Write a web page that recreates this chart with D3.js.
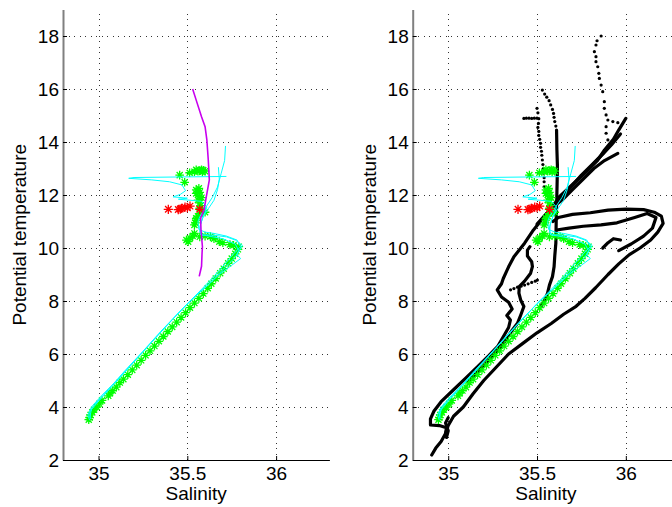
<!DOCTYPE html>
<html><head><meta charset="utf-8">
<script src="https://cdn.jsdelivr.net/npm/d3@7"></script>
<style>body{margin:0;background:#fff;overflow:hidden} svg{display:block} text{font-family:"Liberation Sans",Arial,Helvetica,sans-serif}</style>
</head><body><svg id="c" width="672" height="507"></svg>
<script>
// ---------- data ----------
const salDomain = [34.8, 36.3];
const tempDomain = [2, 19];
const salTicks = [35, 35.5, 36];
const tempTicks = [2, 4, 6, 8, 10, 12, 14, 16, 18];
const xLabel = "Salinity";
const yLabel = "Potential temperature";

// green asterisks [salinity, temperature]
const greenPts = [
 [34.945,3.52],[34.95,3.6],[34.955,3.7],[34.965,3.8],[34.975,3.9],[34.99,4.0],[35.005,4.12],[35.02,4.25],
 [35.055,4.42],[35.065,4.52],[35.08,4.62],[35.1,4.75],[35.12,4.92],[35.14,5.05],[35.165,5.22],[35.19,5.4],
 [35.215,5.58],[35.24,5.76],[35.265,5.95],[35.29,6.12],[35.315,6.3],[35.34,6.48],[35.365,6.66],[35.39,6.85],
 [35.415,7.02],[35.44,7.2],[35.465,7.38],[35.49,7.56],[35.515,7.75],[35.54,7.92],[35.565,8.1],[35.59,8.28],
 [35.615,8.48],[35.635,8.65],[35.66,8.85],[35.685,9.05],[35.705,9.22],[35.73,9.42],[35.75,9.6],[35.77,9.78],
 [35.785,9.95],[35.79,10.05],
 [35.76,10.1],[35.74,10.13],[35.70,10.2],[35.68,10.24],[35.65,10.35],[35.63,10.43],[35.6,10.45],[35.57,10.42],
 [35.54,10.55],[35.53,10.45],[35.515,10.37],[35.505,10.24],[35.495,10.3],
 [35.54,10.87],[35.545,10.95],[35.55,11.05],[35.55,11.12],[35.56,11.2],[35.57,11.3],[35.6,11.35],[35.57,11.5],
 [35.575,11.6],[35.57,11.7],[35.56,11.81],[35.57,11.95],[35.55,12.06],[35.55,12.19],[35.57,12.1],[35.58,11.9],
 [35.565,12.25],
 [35.457,12.75],[35.485,12.48],[35.513,12.84],[35.54,12.88],[35.56,12.9],[35.57,12.92],[35.58,12.95],
 [35.59,12.93],[35.6,12.9],[35.585,12.87],[35.55,12.95]
];
// red asterisks
const redPts = [
 [35.393,11.46],[35.449,11.45],[35.46,11.47],[35.468,11.5],[35.487,11.54],[35.50,11.52],[35.515,11.58],[35.57,11.46]
];
// magenta profile (left panel only)
const magentaProfile = [
 [35.53,16.0],[35.55,15.58],[35.58,14.95],[35.60,14.58],[35.61,14.08],[35.618,13.32],[35.624,12.57],
 [35.607,11.94],[35.594,11.43],[35.575,11.12],[35.577,10.68],[35.585,10.05],[35.583,9.81],[35.58,9.31],[35.567,8.93]
];
// cyan profiles
const cyanA = [[34.95,3.5],[34.94,3.7],[34.96,4.0],[35.02,4.45],[35.1,4.98],[35.2,5.72],[35.3,6.45],[35.4,7.18],[35.5,7.9],
 [35.56,8.3],[35.62,8.72],[35.68,9.15],[35.73,9.55],[35.77,9.85],[35.8,10.05],[35.78,10.3],[35.72,10.45],[35.65,10.55],
 [35.6,10.6],[35.565,10.7],[35.56,11.0],[35.57,11.18],[35.6,11.5],[35.64,11.9],[35.67,12.3],[35.69,12.8],[35.71,13.3],[35.715,13.85]];
const cyanB = [[34.955,3.55],[34.95,3.8],[34.98,4.1],[35.05,4.62],[35.15,5.38],[35.25,6.1],[35.35,6.85],[35.45,7.55],[35.53,8.1],
 [35.6,8.5],[35.68,9.0],[35.75,9.35],[35.8,9.6],[35.78,9.75],[35.81,10.1],[35.77,10.3],[35.72,10.42],[35.65,10.48],[35.59,10.5],
 [35.57,10.6],[35.575,10.9],[35.59,11.2],[35.62,11.5],[35.65,11.8],[35.67,12.2],[35.68,12.6],[35.675,13.05]];
const cyanC = [[34.95,3.6],[34.96,3.9],[35.0,4.22],[35.08,4.8],[35.18,5.55],[35.28,6.3],[35.38,7.05],[35.48,7.75],[35.55,8.2],
 [35.63,8.7],[35.71,9.25],[35.77,9.65],[35.79,9.9],[35.77,10.15],[35.7,10.35],[35.62,10.45],[35.575,10.5],[35.57,10.8],
 [35.585,11.1],[35.6,11.35],[35.61,11.55],[35.58,11.76],[35.52,11.8],[35.45,11.84],[35.5,11.88],[35.42,11.93],[35.46,12.02],
 [35.49,12.16],[35.47,12.38],[35.4,12.5],[35.3,12.57],[35.17,12.63],[35.2,12.66],[35.45,12.68],[35.72,12.7]];
const cyanProfiles = [cyanA, cyanB, cyanC];

// black tracks (right panel only), dense sections
const blackA = [[34.907,2.19],[34.93,2.45],[34.96,2.7],[34.985,3.0],[34.99,3.22],[34.95,3.3],[34.90,3.32],[34.9,3.55],[34.92,3.85],
 [34.96,4.2],[35.03,4.65],[35.1,5.1],[35.17,5.55],[35.23,5.95],[35.28,6.3],[35.31,6.65],[35.34,7.0],[35.35,7.28],[35.33,7.45],
 [35.36,7.7],[35.34,7.95],[35.3,8.15],[35.276,8.42],[35.3,8.65],[35.31,8.85],[35.34,9.29],[35.37,9.67],[35.43,10.18],[35.48,10.68],
 [35.54,11.18],[35.6,11.69],[35.66,12.1],[35.72,12.5],[35.785,12.94],[35.84,13.3],[35.88,13.7],[35.93,14.1],[35.96,14.45],[36.0,14.89]];
const blackB = [[35.11,4.95],[35.16,5.3],[35.22,5.7],[35.27,6.05],[35.32,6.5],[35.36,6.9],[35.39,7.16],
 [35.41,7.5],[35.426,7.79],[35.408,8.04],[35.398,8.3],[35.40,8.54],[35.43,8.75],[35.464,9.05],[35.474,9.3],[35.47,9.48],
 [35.446,9.7],[35.446,9.92],[35.46,10.05]];
const blackC = [[35.61,14.45],[35.612,13.7],[35.615,13.07],[35.613,12.4],[35.611,11.81],[35.608,11.0],[35.606,10.18],[35.6,9.7],
 [35.596,9.29],[35.587,8.92],[35.57,8.6],[35.559,8.29],[35.54,8.0],[35.521,7.79]];
const blackD = [[34.985,3.0],[35.0,3.3],[35.03,3.65],[35.085,4.0],[35.14,4.5],[35.2,5.0],[35.27,5.5],[35.34,6.0],[35.42,6.4],
 [35.5,6.8],[35.58,7.15],[35.65,7.5],[35.72,7.8],[35.77,8.1],[35.83,8.5],[35.9,9.0],[35.96,9.4],[36.02,9.75],[36.08,10.0],
 [36.14,10.3],[36.18,10.6],[36.21,10.93],[36.2,11.2],[36.16,11.35],[36.1,11.45],[36.0,11.47],[35.9,11.43],[35.8,11.33],
 [35.7,11.27],[35.62,11.15],[35.59,11.0]];
const blackE = [[35.61,10.68],[35.68,10.75],[35.76,10.82],[35.86,10.87],[35.95,10.95],[36.05,11.15],[36.12,11.3],[36.17,11.15],
 [36.15,10.75],[36.1,10.45],[36.03,10.15],[35.96,9.9]];
const blackF = [[35.87,10.0],[35.9,10.2],[35.93,10.35],[35.97,10.3]];
const blackG = [[35.58,11.5],[35.64,11.8],[35.7,12.2],[35.76,12.6],[35.82,13.0],[35.88,13.3],[35.955,13.57]];
const blackH = [[35.62,11.9],[35.7,12.4],[35.78,12.9],[35.85,13.4],[35.92,13.9],[35.97,14.3]];
const blackI = [[35.5,10.9],[35.56,11.35],[35.63,11.85],[35.69,12.3],[35.75,12.75],[35.81,13.15],[35.87,13.55],[35.92,13.95]];
const blackJ = [[34.99,2.85],[35.0,3.1],[34.985,3.4],[35.0,3.6]];
const blackTracks = [blackA, blackB, blackC, blackD, blackE, blackF, blackG, blackH, blackI, blackJ];

// black sparse dots (right panel only)
const blackDots = [
 [35.861,18.0],[35.838,17.82],[35.832,17.66],[35.823,17.41],[35.832,17.22],[35.832,17.03],[35.842,16.84],[35.848,16.59],
 [35.851,16.40],[35.861,16.15],[35.870,15.90],[35.879,15.52],[35.879,15.27],[35.889,15.02],[35.899,14.83],[35.927,14.77],
 [35.955,14.73],[35.889,14.58],[35.889,14.33],[35.899,14.08],[35.899,13.82],
 [35.530,15.96],[35.543,15.81],[35.555,15.69],[35.568,15.56],[35.577,15.40],[35.587,15.23],[35.593,15.08],[35.596,14.93],
 [35.600,14.77],[35.606,14.60],
 [35.426,14.89],[35.44,14.9],[35.455,14.9],[35.47,14.89],[35.485,14.9],[35.5,14.9],[35.51,14.88],[35.5,15.27],[35.505,15.1],
 [35.508,14.7],[35.505,14.55],[35.51,14.4],[35.51,14.25],[35.515,14.1],[35.52,13.95],[35.52,13.8],[35.525,13.65],
 [35.527,13.5],[35.53,13.32],[35.533,13.15],[35.536,13.0],[35.536,12.82],[35.54,12.65],[35.54,12.5],[35.54,12.31],
 [35.351,8.42],[35.37,8.47],[35.39,8.52],[35.41,8.56],[35.43,8.6],[35.45,8.65],[35.47,8.7],[35.49,8.75],[35.502,8.79]
];

// ---------- layout ----------
const svg = d3.select("#c");
const yTop = 9.5, yBot = 460;
const FS = 19;
const panels = [
  {left: 63, right: 329.4, magenta: true, black: false, id: "p0"},
  {left: 412.7, right: 679.1, magenta: false, black: true, id: "p1"}
];
const y = d3.scaleLinear().domain(tempDomain).range([yBot, yTop]);

function asterisk(r) {
  const d = r * 0.7071;
  return `M${-r},0L${r},0M0,${-r}L0,${r}M${-d},${-d}L${d},${d}M${-d},${d}L${d},${-d}`;
}

panels.forEach(p => {
  const x = d3.scaleLinear().domain(salDomain).range([p.left, p.right]);
  const g = svg.append("g");

  g.append("clipPath").attr("id", "clip" + p.id)
    .append("rect").attr("x", p.left).attr("y", yTop).attr("width", p.right - p.left).attr("height", yBot - yTop);

  // grid
  const grid = g.append("g").attr("stroke", "#333").attr("stroke-width", 1).attr("stroke-dasharray", "1,4.5")
    .attr("shape-rendering", "crispEdges");
  grid.selectAll("line.h").data(tempTicks.filter(t => t > tempDomain[0])).join("line")
    .attr("x1", p.left).attr("x2", p.right)
    .attr("y1", d => Math.round(y(d)) + 0.5).attr("y2", d => Math.round(y(d)) + 0.5);
  grid.selectAll("line.v").data(salTicks).join("line").attr("class", "v")
    .attr("x1", d => Math.round(x(d)) + 0.5).attr("x2", d => Math.round(x(d)) + 0.5)
    .attr("y1", yBot).attr("y2", yTop);

  const plot = g.append("g").attr("clip-path", `url(#clip${p.id})`);
  const line = d3.line().x(d => x(d[0])).y(d => y(d[1]));

  if (p.black) {
    plot.append("g").selectAll("path").data(blackTracks).join("path")
      .attr("d", line).attr("fill", "none").attr("stroke", "#000")
      .attr("stroke-width", 3.2).attr("stroke-linejoin", "round").attr("stroke-linecap", "round");
    plot.append("g").selectAll("circle").data(blackDots).join("circle")
      .attr("cx", d => x(d[0])).attr("cy", d => y(d[1])).attr("r", 1.6).attr("fill", "#000");
  }

  plot.append("g").selectAll("path").data(greenPts).join("path")
    .attr("transform", d => `translate(${x(d[0])},${y(d[1])})`)
    .attr("d", asterisk(4.3)).attr("stroke", "#00ff00").attr("stroke-width", 1.3).attr("fill", "none");

  plot.append("g").selectAll("path").data(cyanProfiles).join("path")
    .attr("d", line).attr("fill", "none").attr("stroke", "#00ffff").attr("stroke-width", 1);

  plot.append("g").selectAll("path").data(redPts).join("path")
    .attr("transform", d => `translate(${x(d[0])},${y(d[1])})`)
    .attr("d", asterisk(4.6)).attr("stroke", "#ff0000").attr("stroke-width", 1.3).attr("fill", "none");

  if (p.magenta) {
    plot.append("path").datum(magentaProfile).attr("d", line)
      .attr("fill", "none").attr("stroke", "#c800ee").attr("stroke-width", 1.6);
  }

  // axes
  const ax = g.append("g").attr("transform", `translate(0,${yBot})`)
    .call(d3.axisBottom(x).tickValues(salTicks).tickSize(-4).tickSizeOuter(0).tickPadding(7).tickFormat(d3.format("")));
  ax.select(".domain").attr("stroke", "#000").attr("stroke-width", 1);
  ax.selectAll(".tick line").attr("stroke", "#000");
  ax.selectAll("text").attr("font-size", FS).attr("fill", "#000").attr("font-family", '"Liberation Sans",Arial,sans-serif');

  const ay = g.append("g").attr("transform", `translate(${p.left},0)`)
    .call(d3.axisLeft(y).tickValues(tempTicks).tickSize(-4).tickSizeOuter(0).tickPadding(4).tickFormat(d3.format("d")));
  ay.select(".domain").attr("stroke", "#808080").attr("stroke-width", 2);
  ay.selectAll(".tick line").attr("stroke", "#000");
  ay.selectAll("text").attr("font-size", FS).attr("fill", "#000").attr("font-family", '"Liberation Sans",Arial,sans-serif');

  // labels
  g.append("text").attr("x", p.left + (329.4 - 63) / 2).attr("y", 500)
    .attr("text-anchor", "middle").attr("font-size", FS).attr("fill", "#000").text(xLabel);
  g.append("text").attr("transform", `translate(${p.left - 37},${(yTop + yBot) / 2}) rotate(-90)`)
    .attr("text-anchor", "middle").attr("font-size", FS).attr("fill", "#000").text(yLabel);
});
</script></body></html>
